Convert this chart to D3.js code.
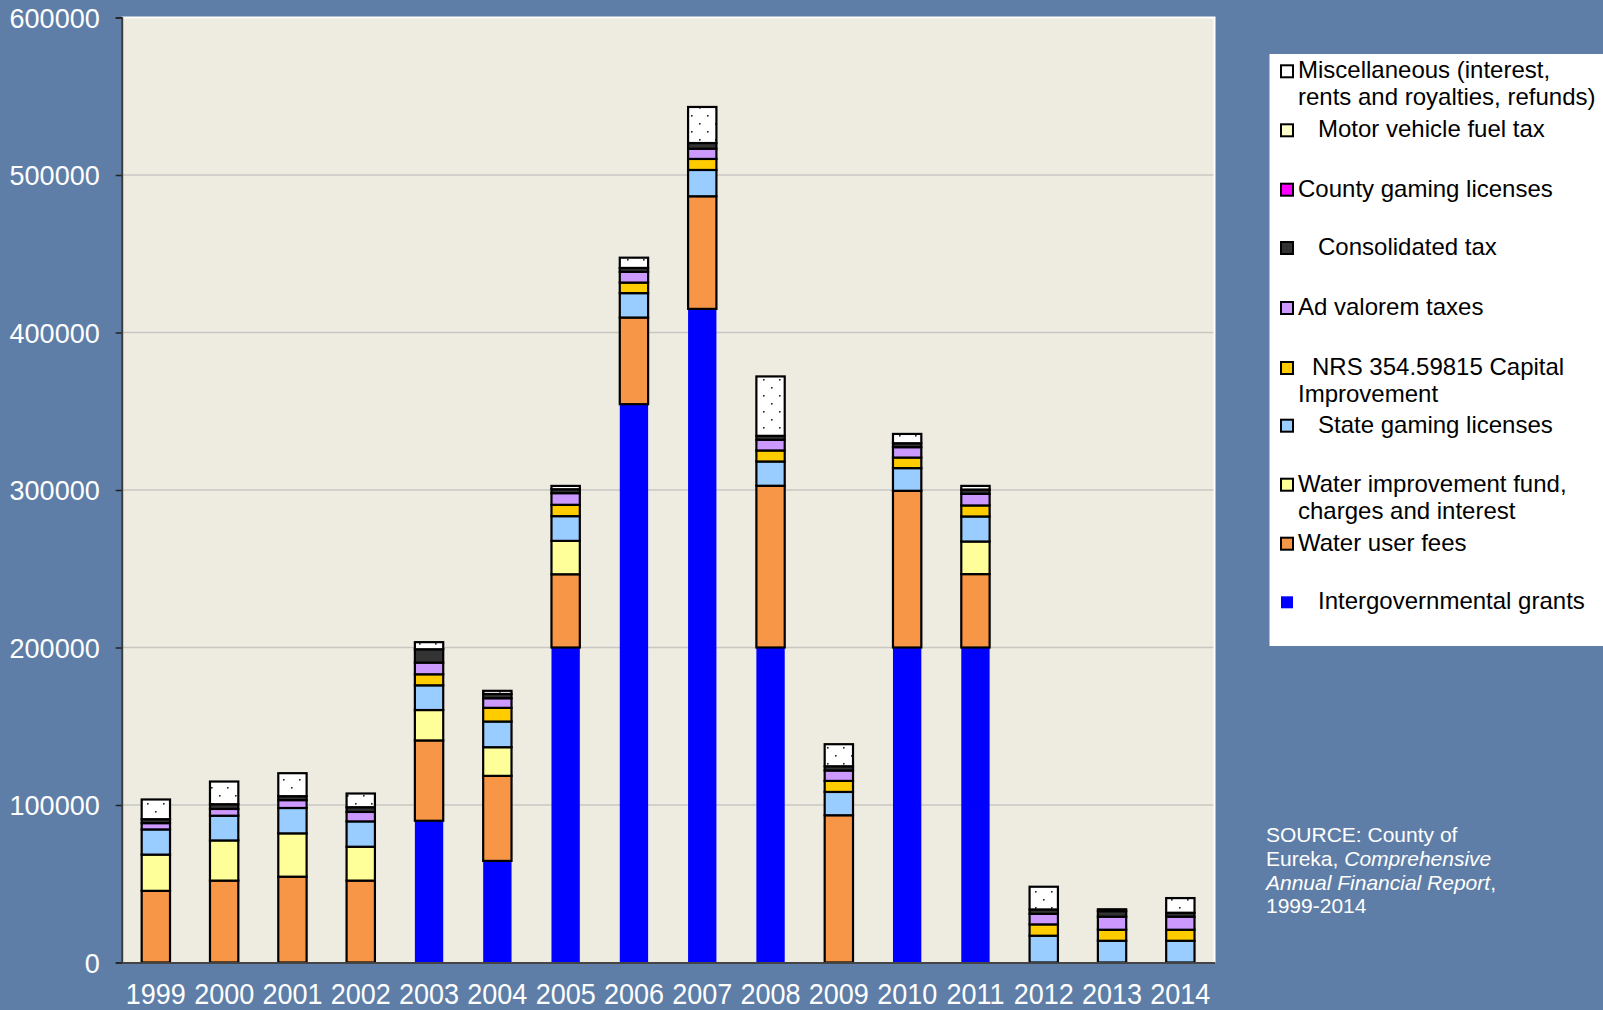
<!DOCTYPE html>
<html><head><meta charset="utf-8">
<script src="https://cdn.jsdelivr.net/npm/d3@7"></script>
<style>
body{margin:0;background:#5E7EA7;}
svg{display:block;font-family:"Liberation Sans",Arial,sans-serif;}
</style>
</head><body>
<svg id="chart" width="1603" height="1010"></svg>
<script>
// ---- data ----
const years = ["1999","2000","2001","2002","2003","2004","2005","2006","2007","2008","2009","2010","2011","2012","2013","2014"];
const grants       = [0,0,0,0,90000,64500,200000,354500,415000,200000,0,200000,200000,0,0,0];
const waterFees    = [45500,52000,54500,52000,51000,54000,46500,55000,71500,102700,93500,99500,46600,0,0,0];
const waterImprove = [23000,25500,27500,21500,19300,18200,21200,0,0,0,0,0,20700,0,0,0];
const stateGaming  = [16000,15700,16100,16100,15700,16300,15700,15500,16700,15400,14800,14400,15900,17000,13800,13800];
const nrsCapital   = [0,0,0,0,7000,8700,7200,6700,7000,7000,7000,6700,7000,7200,7000,7000];
const adValorem    = [4000,4300,5000,6000,7400,6100,7400,6800,6500,6800,6600,6600,7400,6700,8300,8300];
const consolidated = [2500,3000,2500,3000,8500,2700,2500,2500,3600,2500,2700,2500,2700,2800,3500,2500];
const countyGaming = [0,0,0,0,0,0,0,0,0,0,0,0,0,0,0,0];
const motorFuel    = [0,0,0,0,0,0,0,0,0,0,0,0,0,0,0,0];
const misc         = [12500,14400,14600,8700,4500,2000,2100,6500,22900,37700,14000,5900,2300,14400,1200,9300];
const yTicks = [0,100000,200000,300000,400000,500000,600000];

const seriesKeys = ["grants","waterFees","waterImprove","stateGaming","nrsCapital","adValorem","consolidated","countyGaming","motorFuel","misc"];
const seriesValues = {grants,waterFees,waterImprove,stateGaming,nrsCapital,adValorem,consolidated,countyGaming,motorFuel,misc};
const seriesLabels = {
  misc:["Miscellaneous (interest,","rents and royalties, refunds)"],
  motorFuel:["Motor vehicle fuel tax"],
  countyGaming:["County gaming licenses"],
  consolidated:["Consolidated tax"],
  adValorem:["Ad valorem taxes"],
  nrsCapital:["NRS 354.59815 Capital","Improvement"],
  stateGaming:["State gaming licenses"],
  waterImprove:["Water improvement fund,","charges and interest"],
  waterFees:["Water user fees"],
  grants:["Intergovernmental grants"]
};
const colors = {
  grants:"#0000FF", waterFees:"#F79646", waterImprove:"#FFFF99", stateGaming:"#99CCFF",
  nrsCapital:"#FFCC00", adValorem:"#CC99FF", consolidated:"#333333", countyGaming:"#FF00FF",
  motorFuel:"#FFFFCC", misc:"url(#dots)"
};

// ---- layout ----
const svg = d3.select("#chart");
const L = 121.7, R = 1214.5, T = 17.5, B = 962.5;
const x = d3.scaleBand().domain(years).range([L,R]).paddingInner(0.585).paddingOuter(0.2925);
const y = d3.scaleLinear().domain([0,600000]).range([B,T]);

const defs = svg.append("defs");
const pat = defs.append("pattern").attr("id","dots").attr("patternUnits","userSpaceOnUse")
  .attr("width",16).attr("height",16);
pat.append("rect").attr("width",16).attr("height",16).attr("fill","#fff");
pat.append("rect").attr("x",3).attr("y",3).attr("width",1.6).attr("height",1.6).attr("fill","#222");
pat.append("rect").attr("x",11).attr("y",11).attr("width",1.6).attr("height",1.6).attr("fill","#222");

svg.append("rect").attr("width",1603).attr("height",1010).attr("fill","#5E7EA7");
// plot background
svg.append("rect").attr("x",L).attr("y",T).attr("width",R-L).attr("height",B-T).attr("fill","#EEEBE1");
// gridlines
svg.append("g").selectAll("line").data(yTicks.filter(v=>v>0 && v<600000)).join("line")
  .attr("x1",L).attr("x2",R).attr("y1",d=>y(d)).attr("y2",d=>y(d))
  .attr("stroke","#C9C7C2").attr("stroke-width",1.3);
// top/right light frame
svg.append("path").attr("d",`M${L},${T}H${R}V${B}`).attr("fill","none").attr("stroke","#FFFFFF").attr("stroke-width",2);

// stacked bars
const table = years.map((yr,i)=>{const o={year:yr}; seriesKeys.forEach(k=>o[k]=seriesValues[k][i]); return o;});
const stacked = d3.stack().keys(seriesKeys)(table);
const gBars = svg.append("g");
stacked.forEach(s=>{
  const key = s.key;
  gBars.append("g").selectAll("rect").data(s.filter(d=>d[1]-d[0]>0)).join("rect")
    .attr("x",d=>x(d.data.year))
    .attr("width",x.bandwidth())
    .attr("y",d=>y(d[1]))
    .attr("height",d=>y(d[0])-y(d[1]))
    .attr("fill",colors[key])
    .attr("stroke",key==="grants"?"none":"#000")
    .attr("stroke-width",key==="grants"?0:2.2);
});

// axes
const yAxis = d3.axisLeft(y).tickValues(yTicks).tickSize(6).tickFormat(d3.format("d"));
const gy = svg.append("g").attr("transform",`translate(${L},0)`).call(yAxis);
gy.select(".domain").attr("stroke","#3A3A3A").attr("stroke-width",2);
gy.selectAll(".tick line").attr("stroke","#222").attr("stroke-width",1.5);
gy.selectAll(".tick text").attr("fill","#fff").attr("font-size",27).attr("x",-22)
  .attr("font-family","'Liberation Sans',Arial,sans-serif").attr("dy","0.36em");

const xAxis = d3.axisBottom(x).tickSize(0).tickSizeOuter(0);
const gx = svg.append("g").attr("transform",`translate(0,${B})`).call(xAxis);
gx.select(".domain").attr("stroke","#444").attr("stroke-width",2);
gx.selectAll(".tick text").attr("fill","#fff").attr("font-size",27).attr("y",0).attr("dy",0)
  .attr("transform","translate(0,41) scale(1,1.12)")
  .attr("font-family","'Liberation Sans',Arial,sans-serif");

// legend
const lg = svg.append("g");
lg.append("rect").attr("x",1269.5).attr("y",54).attr("width",340).attr("height",592).attr("fill","#fff");
const legendOrder = seriesKeys.slice().reverse();
const legendBaselines = [78.3,137.3,196.7,255,315,375,432.7,491.7,550.7,609.3];
const legendIndent = {motorFuel:20, consolidated:20, stateGaming:20, grants:20, nrsCapital:14};
legendOrder.forEach((k,i)=>{
  const b = legendBaselines[i];
  lg.append("rect").attr("x",1281).attr("y",b-13).attr("width",12).attr("height",12)
    .attr("fill",k==="misc"?"#fff":colors[k])
    .attr("stroke",k==="grants"?"none":"#000").attr("stroke-width",2);
  seriesLabels[k].forEach((line,j)=>{
    lg.append("text").attr("x",1298 + (j===0 ? (legendIndent[k]||0) : 0)).attr("y",b+j*26.8)
      .attr("font-size",24).attr("fill","#000").text(line);
  });
});

// source note
const src = svg.append("g").attr("fill","#fff").attr("font-size",21);
src.append("text").attr("x",1266).attr("y",841.7).text("SOURCE: County of");
const t2 = src.append("text").attr("x",1266).attr("y",865.5);
t2.append("tspan").text("Eureka, ");
t2.append("tspan").attr("font-style","italic").text("Comprehensive");
const t3 = src.append("text").attr("x",1266).attr("y",889.5);
t3.append("tspan").attr("font-style","italic").text("Annual Financial Report");
t3.append("tspan").text(",");
src.append("text").attr("x",1266).attr("y",913.3).text("1999-2014");
</script>
</body></html>
